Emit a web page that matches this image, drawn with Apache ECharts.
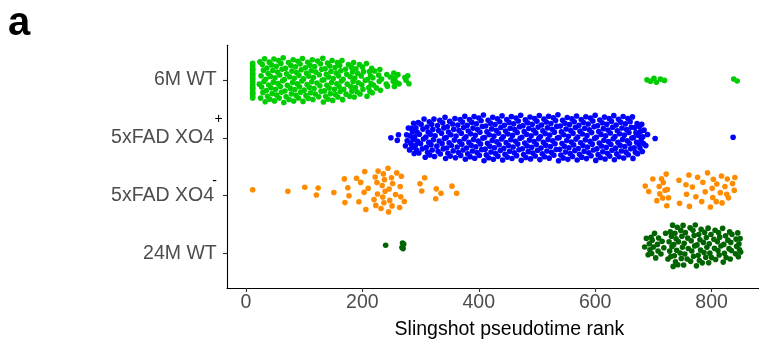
<!DOCTYPE html>
<html><head><meta charset="utf-8">
<script src="https://cdn.jsdelivr.net/npm/echarts@6/dist/echarts.min.js"></script>
<style>html,body{margin:0;padding:0;background:#fff}#c{width:759px;height:342px}</style>
</head><body><div id="c"></div>
<script>
// ---------- data (Slingshot pseudotime rank of each cell) ----------
const categories = ['6M WT', '5xFAD XO4', '5xFAD XO4', '24M WT'];
const superscripts = ['', '+', '-', ''];
const xTicks = [0, 200, 400, 600, 800];
const yTicks = [4, 3, 2, 1];

const wt6m = [11.5,11.5,11.5,11.5,11.5,11.5,11.5,11.5,11.5,11.5,11.5,11.5,11.5,11.5,11.5,11.5,11.5,11.5,11.5,11.5,11.5,
23,24,25,26,27,28,29,30,31,32,33,34,35,36,37,38,39,40,41,42,43,44,45,46,47,48,49,50,51,52,53,54,55,56,57,58,59,60,61,62,63,64,65,66,67,68,69,70,71,
73,74,75,76,77,78,79,80,81,82,83,84,85,86,87,88,89,90,91,92,93,94,95,96,97,98,99,100,
102,103,104,105,106,107,108,109,110,111,112,113,114,115,116,117,118,119,120,122,123,
125,126,127,128,129,130,131,132,133,134,135,136,137,138,139,140,141,142,143,144,145,146,147,148,149,150,
152,153,154,155,156,157,158,159,160,161,162,163,164,165,166,167,168,
171,172,173,174,176,178,179,180,181,182,183,184,185,186,187,188,189,191,192,193,195,196,198,199,
200,201,202,205,207,208,209,211,212,213,214,215,216,217,218,219,221,224,228,229,230,231,233,241,242,243,248,253,254,255,256,258,261,263,273,275,278,280,
689,695,701,705,712,719,838,844];

const xo4Plus = [249,260,262,274,276,277,279,
281,282,283,284,285,286,287,288,289,290,291,292,293,294,295,296,297,298,300,301,303,304,305,306,
308,309,310,311,312,313,314,315,316,317,318,319,320,321,322,323,324,325,
328,329,330,331,332,333,334,336,337,338,339,340,341,342,343,344,345,346,347,348,349,350,351,352,353,
355,356,357,358,359,360,361,
363,364,365,366,367,368,369,370,371,372,373,374,375,376,377,378,379,380,381,382,
383,384,385,386,387,388,389,390,391,392,393,394,395,396,397,398,399,400,401,402,
403,404,405,406,407,408,409,410,411,412,413,414,415,416,417,418,419,420,421,422,
423,424,425,426,427,428,429,430,431,432,433,434,435,436,437,438,439,440,441,442,
443,444,445,446,447,448,449,450,451,452,453,454,455,456,457,458,459,460,461,462,
463,464,465,466,467,468,469,470,471,472,473,474,475,476,477,478,479,480,481,482,
483,484,485,486,487,488,489,490,491,492,493,494,495,496,497,498,499,500,501,502,
503,504,505,506,507,508,509,510,511,512,513,514,515,516,517,518,519,520,521,522,
523,524,525,526,527,528,529,530,531,532,533,534,535,536,537,538,539,540,541,542,
543,544,545,546,547,548,549,550,551,552,553,554,555,556,557,558,559,560,561,562,
563,564,565,566,567,568,569,570,571,572,573,574,575,576,577,578,579,580,581,582,
583,584,585,586,587,588,589,590,591,592,593,594,595,596,597,598,599,600,601,602,
603,604,605,606,607,608,609,610,611,612,613,614,615,616,617,618,619,620,621,622,
623,624,625,626,627,628,629,630,631,632,633,634,635,636,637,638,639,640,641,642,
643,644,645,646,647,648,649,650,651,652,653,654,655,656,657,658,659,660,661,662,
663,664,665,666,667,668,669,670,671,672,673,674,675,676,677,678,679,680,681,682,
683,684,687,690,703,837];

const xo4Minus = [11.5,72,101,121,124,151,169,170,175,177,190,194,197,
203,204,206,210,220,222,223,225,226,227,232,234,235,236,237,238,239,244,245,246,247,250,251,252,257,259,264,265,266,267,272,
299,302,307,326,327,335,354,362,
686,692,699,706,710,711,714,716,717,720,722,723,724,726,744,745,756,757,761,762,767,773,776,783,785,789,
793,798,801,802,803,808,809,815,817,818,823,826,827,829,836,839,840];

const wt24m = [240,268,269,270,271,
685,688,691,693,694,696,697,698,700,702,704,707,708,709,713,715,718,721,725,
727,728,729,730,731,732,733,734,735,736,737,738,739,740,741,742,743,
746,747,748,749,750,751,752,753,754,755,758,759,760,763,764,765,766,768,769,770,771,772,774,775,
777,778,779,780,781,782,784,786,787,788,790,791,792,794,795,796,797,799,800,
804,805,806,807,810,811,812,813,814,816,819,820,821,822,824,825,828,
830,831,832,833,834,835,841,842,843,845,846,847,848,849,850];

const groups = [wt6m, xo4Plus, xo4Minus, wt24m];
const colors = ['#00CD00', '#0000FF', '#FF8C00', '#006400'];
// row centre of each swarm on the category scale (as drawn in the figure)
const rowCenters = [4, 3, 2.1, 1.14];

// ---------- quasirandom (vipor) layout ----------
function vdc(i) { let v = 0, d = 1; while (i > 0) { d *= 2; v += (i % 2) / d; i = Math.floor(i / 2); } return v; }
function quant(s, p) { const h = (s.length - 1) * p, lo = Math.floor(h); return s[lo] + (h - lo) * (s[Math.min(lo + 1, s.length - 1)] - s[lo]); }
function quasiOffsets(vals, width) {
  const n = vals.length;
  const s = [...vals].sort((a, b) => a - b);
  const mean = s.reduce((a, b) => a + b, 0) / n;
  const sd = Math.sqrt(s.reduce((a, b) => a + (b - mean) * (b - mean), 0) / (n - 1));
  const iqr = quant(s, 0.75) - quant(s, 0.25);
  let lo = Math.min(sd, iqr / 1.34); if (!(lo > 0)) lo = sd || 1;
  const bw = 0.9 * lo * Math.pow(n, -0.2) * 0.5;
  const dens = v => { let t = 0; for (const x of s) { const z = (v - x) / bw; t += Math.exp(-0.5 * z * z); } return t; };
  const G = 1024, a = s[0] - 3 * bw, b = s[n - 1] + 3 * bw;
  let maxD = 0;
  for (let g = 0; g < G; g++) { const d = dens(a + (b - a) * g / (G - 1)); if (d > maxD) maxD = d; }
  const idx = vals.map((v, i) => i).sort((i, j) => vals[i] - vals[j] || i - j);
  const rank = new Array(n); idx.forEach((i, r) => { rank[i] = r + 1; });
  return vals.map((v, i) => (vdc(rank[i]) - 0.5) * 2 * dens(v) / maxD * width);
}

const FONT = '"Liberation Sans", Arial, Helvetica, sans-serif';
const series = groups.map((vals, gi) => {
  const off = quasiOffsets(vals, 0.4);
  return {
    type: 'scatter', name: categories[gi] + superscripts[gi], silent: true,
    symbolSize: 5.6, itemStyle: { color: colors[gi], opacity: 1 },
    data: vals.map((v, i) => [v, rowCenters[gi] + off[i]])
  };
});

function yLabel(v) {
  const k = yTicks.indexOf(Math.round(v));
  if (k < 0) return '';
  const sup = superscripts[k];
  if (sup === '+') return '{bp|' + categories[k] + '}{sp|+}';
  if (sup === '-') return '{bm|' + categories[k] + '}{sm|-}';
  return '{b|' + categories[k] + '}';
}

const chart = echarts.init(document.getElementById('c'), null, { renderer: 'canvas' });
chart.setOption({
  animation: false,
  backgroundColor: '#fff',
  grid: { left: 227, top: 45.3, width: 564.9, height: 242.7, containLabel: false, outerBoundsMode: 'none' },
  xAxis: {
    type: 'value', min: -32.6, max: 938,
    name: 'Slingshot pseudotime rank', nameLocation: 'middle', nameGap: 32,
    nameTextStyle: { fontSize: 19.5, color: '#000', fontFamily: FONT },
    axisLine: { show: true, onZero: false, lineStyle: { color: '#000', width: 1.1 } },
    axisTick: { show: true, length: 4, lineStyle: { color: '#333', width: 1.1 }, customValues: xTicks },
    axisLabel: { customValues: xTicks, margin: 5, fontSize: 19.5, color: '#4D4D4D', fontFamily: FONT },
    splitLine: { show: false }
  },
  yAxis: {
    type: 'value', min: 0.4, max: 4.6,
    axisLine: { show: true, onZero: false, lineStyle: { color: '#000', width: 1.1 } },
    axisTick: { show: true, length: 4, lineStyle: { color: '#333', width: 1.1 }, customValues: yTicks },
    axisLabel: {
      customValues: yTicks, margin: 4.3, formatter: yLabel,
      rich: {
        b: { fontSize: 19.5, color: '#4D4D4D', fontFamily: FONT, lineHeight: 22, padding: [0, 6, 0, 0] },
        bp: { fontSize: 19.5, color: '#4D4D4D', fontFamily: FONT, lineHeight: 51.4 },
        bm: { fontSize: 19.5, color: '#4D4D4D', fontFamily: FONT, lineHeight: 42 },
        sp: { fontSize: 14, color: '#000', fontFamily: FONT, verticalAlign: 'top', width: 8.7 },
        sm: { fontSize: 14, color: '#000', fontFamily: FONT, verticalAlign: 'top', width: 3, padding: [0, 5.7, 0, 0] }
      }
    },
    splitLine: { show: false }
  },
  graphic: [{
    type: 'text', left: 8, top: 4,
    style: { text: 'a', font: 'bold 40px ' + FONT, fill: '#000' }
  }],
  series: series
});
</script>
</body></html>
